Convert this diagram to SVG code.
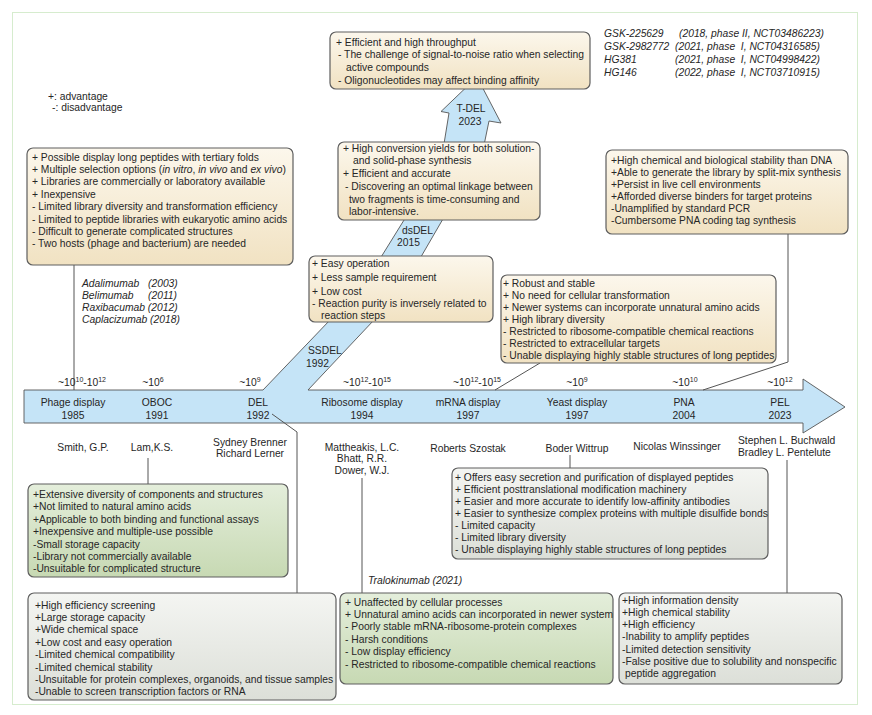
<svg xmlns="http://www.w3.org/2000/svg" width="872" height="715" viewBox="0 0 872 715">
<defs>
<linearGradient id="gB" x1="0" y1="0" x2="0" y2="1"><stop offset="0" stop-color="#fcf7ec"/><stop offset="1" stop-color="#f1e2c2"/></linearGradient>
<linearGradient id="gG" x1="0" y1="0" x2="0" y2="1"><stop offset="0" stop-color="#e4eedb"/><stop offset="1" stop-color="#c7d9b3"/></linearGradient>
<linearGradient id="gY" x1="0" y1="0" x2="0" y2="1"><stop offset="0" stop-color="#f4f5f2"/><stop offset="1" stop-color="#dcdfd8"/></linearGradient>
</defs>
<style>
text{font-family:"Liberation Sans",Arial,sans-serif;font-size:10.3px;fill:#262626}
.c{text-anchor:middle}
.i{font-style:italic}
.bb{fill:url(#gB);stroke:#5e5e5e;stroke-width:1.2}
.bg{fill:url(#gG);stroke:#5e5e5e;stroke-width:1.2}
.by{fill:url(#gY);stroke:#5e5e5e;stroke-width:1.2}
.band{fill:#c5e4f7;stroke:#555;stroke-width:0.9;stroke-linejoin:miter}
.ln{fill:none;stroke:#555;stroke-width:1}
.s{font-size:7px}
</style>
<rect x="0" y="0" width="872" height="715" fill="#fff"/>
<rect x="12.5" y="12.5" width="845" height="692" fill="none" stroke="#d6ecce" stroke-width="1"/>

<g id="legend">
<text x="48" y="99.5">+: advantage</text>
<text x="52" y="111">-: disadvantage</text>
</g>

<g id="bands">
<path class="band" d="M24,390 L263,390 L330,320 L374,320 L308,390 L803,390 L803,379 L845,407 L803,433 L803,423 L24,423 Z"/>
<path class="band" d="M378,262 L409,212 L447,212 L418,262 Z"/>
<path class="band" d="M443,150 L449,113 L441,111.5 L477,77 L501,123 L489,121 L483,150 Z"/>
<text x="308" y="353.5">SSDEL</text>
<text x="306" y="366.5">1992</text>
<text x="402" y="233.5">dsDEL</text>
<text x="397" y="245.5">2015</text>
<text x="471" y="111.5" class="c">T-DEL</text>
<text x="470" y="124.5" class="c">2023</text>
</g>

<g id="connectors">
<path class="ln" d="M74,265 V390"/>
<path class="ln" d="M495,390 L540,363"/>
<path class="ln" d="M703,390 L788,362 V234"/>
<path class="ln" d="M148,458 V484"/>
<path class="ln" d="M272,414 L297,432 V593"/>
<path class="ln" d="M362,478 V593"/>
<path class="ln" d="M570,455 V468"/>
<path class="ln" d="M787,460 V593"/>
</g>

<g id="timeline-labels">
<text x="82" y="386" class="c">~10<tspan class="s" dy="-4">10</tspan><tspan dy="4">-10</tspan><tspan class="s" dy="-4">12</tspan></text>
<text x="153" y="386" class="c">~10<tspan class="s" dy="-4">6</tspan></text>
<text x="250" y="386" class="c">~10<tspan class="s" dy="-4">9</tspan></text>
<text x="367" y="386" class="c">~10<tspan class="s" dy="-4">12</tspan><tspan dy="4">-10</tspan><tspan class="s" dy="-4">15</tspan></text>
<text x="477" y="386" class="c">~10<tspan class="s" dy="-4">12</tspan><tspan dy="4">-10</tspan><tspan class="s" dy="-4">15</tspan></text>
<text x="577" y="386" class="c">~10<tspan class="s" dy="-4">9</tspan></text>
<text x="685" y="386" class="c">~10<tspan class="s" dy="-4">10</tspan></text>
<text x="780" y="386" class="c">~10<tspan class="s" dy="-4">12</tspan></text>
<text x="73" y="405.5" class="c">Phage display</text><text x="73" y="419" class="c">1985</text>
<text x="157" y="405.5" class="c">OBOC</text><text x="157" y="419" class="c">1991</text>
<text x="258" y="405.5" class="c">DEL</text><text x="258" y="419" class="c">1992</text>
<text x="362" y="405.5" class="c">Ribosome display</text><text x="362" y="419" class="c">1994</text>
<text x="468" y="405.5" class="c">mRNA display</text><text x="468" y="419" class="c">1997</text>
<text x="577" y="405.5" class="c">Yeast display</text><text x="577" y="419" class="c">1997</text>
<text x="684" y="405.5" class="c">PNA</text><text x="684" y="419" class="c">2004</text>
<text x="780" y="405.5" class="c">PEL</text><text x="780" y="419" class="c">2023</text>
</g>

<g id="researchers">
<text x="83" y="450.5" class="c">Smith, G.P.</text>
<text x="152" y="450.5" class="c">Lam,K.S.</text>
<text x="250" y="445.5" class="c">Sydney Brenner</text>
<text x="250" y="457" class="c">Richard Lerner</text>
<text x="362" y="450.5" class="c">Mattheakis, L.C.</text>
<text x="362" y="462" class="c">Bhatt, R.R.</text>
<text x="362" y="473.5" class="c">Dower, W.J.</text>
<text x="468" y="451.5" class="c">Roberts Szostak</text>
<text x="577" y="451.5" class="c">Boder Wittrup</text>
<text x="677" y="450" class="c">Nicolas Winssinger</text>
<text x="738" y="443.6">Stephen L. Buchwald</text>
<text x="738" y="456">Bradley L. Pentelute</text>
</g>

<g id="drugs-phage">
<text x="82" y="286.5" class="i">Adalimumab<tspan x="148">(2003)</tspan></text>
<text x="82" y="298.5" class="i">Belimumab<tspan x="148">(2011)</tspan></text>
<text x="82" y="310.5" class="i">Raxibacumab (2012)</text>
<text x="82" y="322.5" class="i">Caplacizumab (2018)</text>
</g>

<g id="drugs-del">
<text x="604" y="36.6" class="i">GSK-225629<tspan x="679">(2018, phase II, NCT03486223)</tspan></text>
<text x="604" y="49.6" class="i" xml:space="preserve">GSK-2982772<tspan x="675">(2021, phase  I, NCT04316585)</tspan></text>
<text x="604" y="62.6" class="i" xml:space="preserve">HG381<tspan x="675">(2021, phase  I, NCT04998422)</tspan></text>
<text x="604" y="75.6" class="i" xml:space="preserve">HG146<tspan x="675">(2022, phase  I, NCT03710915)</tspan></text>
</g>

<g id="tdel-box">
<rect class="bb" x="330" y="32" width="260" height="57" rx="6"/>
<text x="336" y="45.5">+ Efficient and high throughput</text>
<text x="338" y="58">- The challenge of signal-to-noise ratio when selecting</text>
<text x="346" y="71">active compounds</text>
<text x="338" y="83.5">- Oligonucleotides may affect binding affinity</text>
</g>

<g id="phage-box">
<rect class="bb" x="27" y="148" width="266" height="117" rx="6"/>
<text x="32" y="160.5">+ Possible display long peptides with tertiary folds</text>
<text x="32" y="172.9">+ Multiple selection options (<tspan class="i">in vitro</tspan>, <tspan class="i">in vivo</tspan> and <tspan class="i">ex vivo</tspan>)</text>
<text x="32" y="185.3">+ Libraries are commercially or laboratory available</text>
<text x="32" y="197.7">+ Inexpensive</text>
<text x="32" y="210.1">- Limited library diversity and transformation efficiency</text>
<text x="32" y="222.5">- Limited to peptide libraries with eukaryotic amino acids</text>
<text x="32" y="234.9">- Difficult to generate complicated structures</text>
<text x="32" y="247.3">- Two hosts (phage and bacterium) are needed</text>
</g>

<g id="dsdel-box">
<rect class="bb" x="338" y="142" width="202" height="78" rx="6"/>
<text x="343" y="152">+ High conversion yields for both solution-</text>
<text x="353" y="164">and solid-phase synthesis</text>
<text x="343" y="177">+ Efficient and accurate</text>
<text x="345" y="190">- Discovering an optimal linkage between</text>
<text x="349" y="202.5">two fragments is time-consuming and</text>
<text x="349" y="215">labor-intensive.</text>
</g>

<g id="ssdel-box">
<rect class="bb" x="309" y="256" width="184" height="66" rx="6"/>
<text x="312" y="267">+ Easy operation</text>
<text x="312" y="280.5">+ Less sample requirement</text>
<text x="312" y="294.5">+ Low cost</text>
<text x="312" y="307">- Reaction purity is inversely related to</text>
<text x="321" y="318.5">reaction steps</text>
</g>

<g id="mrna-box">
<rect class="bb" x="501" y="275" width="275" height="88" rx="6"/>
<text x="503" y="286.5">+ Robust and stable</text>
<text x="503" y="298.5">+ No need for cellular transformation</text>
<text x="503" y="310.5">+ Newer systems can incorporate unnatural amino acids</text>
<text x="503" y="322.5">+ High library diversity</text>
<text x="503" y="335">- Restricted to ribosome-compatible chemical reactions</text>
<text x="503" y="347">- Restricted to extracellular targets</text>
<text x="503" y="359">- Unable displaying highly stable structures of long peptides</text>
</g>

<g id="pna-box">
<rect class="bb" x="606" y="150" width="242" height="84" rx="6"/>
<text x="611" y="164">+High chemical and biological stability than DNA</text>
<text x="611" y="176">+Able to generate the library by split-mix synthesis</text>
<text x="611" y="188">+Persist in live cell environments</text>
<text x="611" y="200">+Afforded diverse binders for target proteins</text>
<text x="611" y="212">-Unamplified by standard PCR</text>
<text x="611" y="224">-Cumbersome PNA coding tag synthesis</text>
</g>

<g id="oboc-box">
<rect class="bg" x="28" y="484" width="260" height="93" rx="6"/>
<text x="33" y="498">+Extensive diversity of components and structures</text>
<text x="33" y="510.4">+Not limited to natural amino acids</text>
<text x="33" y="522.8">+Applicable to both binding and functional assays</text>
<text x="33" y="535.2">+Inexpensive and multiple-use possible</text>
<text x="33" y="547.6">-Small storage capacity</text>
<text x="33" y="560">-Library not commercially available</text>
<text x="33" y="572.4">-Unsuitable for complicated structure</text>
</g>

<g id="del-box">
<rect class="by" x="28" y="593" width="308" height="107" rx="6"/>
<text x="35" y="608.6">+High efficiency screening</text>
<text x="35" y="621">+Large storage capacity</text>
<text x="35" y="633.4">+Wide chemical space</text>
<text x="35" y="645.8">+Low cost and easy operation</text>
<text x="35" y="658.2">-Limited chemical compatibility</text>
<text x="35" y="670.6">-Limited chemical stability</text>
<text x="35" y="683">-Unsuitable for protein complexes, organoids, and tissue samples</text>
<text x="35" y="695.4">-Unable to screen transcription factors or RNA</text>
</g>

<g id="ribosome-box">
<text x="368" y="583.5" class="i">Tralokinumab (2021)</text>
<rect class="bg" x="340" y="593" width="273" height="91" rx="6"/>
<text x="345" y="605.5">+ Unaffected by cellular processes</text>
<text x="345" y="617.9">+ Unnatural amino acids can incorporated in newer system</text>
<text x="345" y="630.3">- Poorly stable mRNA-ribosome-protein complexes</text>
<text x="345" y="642.7">- Harsh conditions</text>
<text x="345" y="655.1">- Low display efficiency</text>
<text x="345" y="667.5">- Restricted to ribosome-compatible chemical reactions</text>
</g>

<g id="yeast-box">
<rect class="by" x="452" y="468" width="316" height="91" rx="6"/>
<text x="455" y="480.5">+ Offers easy secretion and purification of displayed peptides</text>
<text x="455" y="492.5">+ Efficient posttranslational modification machinery</text>
<text x="455" y="504.5">+ Easier and more accurate to identify low-affinity antibodies</text>
<text x="455" y="516.5">+ Easier to synthesize complex proteins with multiple disulfide bonds</text>
<text x="455" y="528.5">- Limited capacity</text>
<text x="455" y="540.5">- Limited library diversity</text>
<text x="455" y="552.5">- Unable displaying highly stable structures of long peptides</text>
</g>

<g id="pel-box">
<rect class="by" x="619" y="593" width="223" height="91" rx="6"/>
<text x="622" y="603.5">+High information density</text>
<text x="622" y="615.8">+High chemical stability</text>
<text x="622" y="628.1">+High efficiency</text>
<text x="622" y="640.4">-Inability to amplify peptides</text>
<text x="622" y="652.7">-Limited detection sensitivity</text>
<text x="622" y="665">-False positive due to solubility and nonspecific</text>
<text x="625" y="677.3">peptide aggregation</text>
</g>
</svg>
